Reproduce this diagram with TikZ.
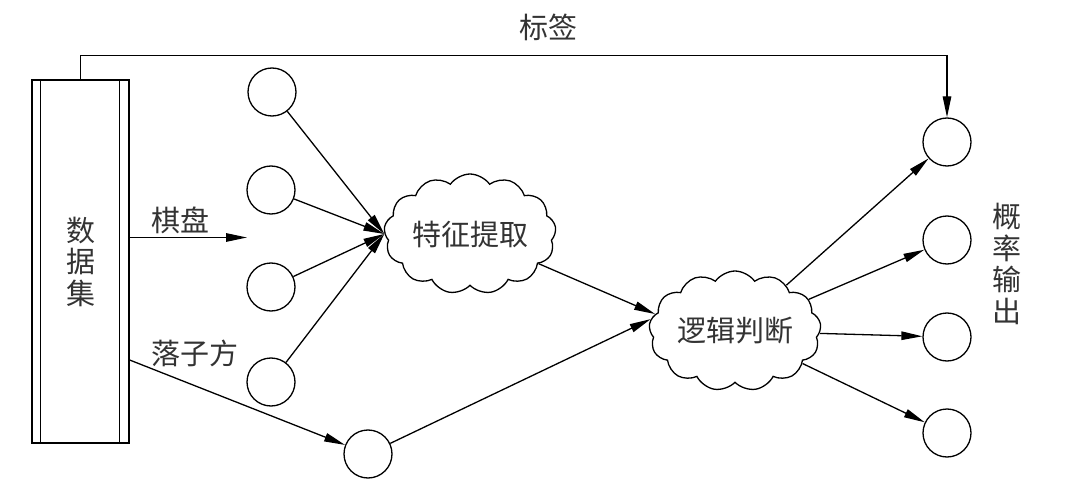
\documentclass[tikz,border=0pt]{standalone}
\usepackage{fontspec}
\newfontfamily\cjk{Noto Sans CJK SC}
\newcommand\cjkbigfont{\cjk\fontsize{29}{31.5}\selectfont\lineskiplimit=-50pt\relax\lineskip=0pt\relax}
\usetikzlibrary{arrows.meta,shapes.symbols}
\begin{document}
\begin{tikzpicture}[x=1pt,y=-1pt,
  line width=1.3pt,
  txt/.style={font=\cjkbigfont, inner sep=0pt, text=black!80},
  vtxt/.style={txt, align=center},
  neuron/.style={draw, circle, minimum size=48pt, inner sep=0pt},
  cloudbox/.style={draw, cloud, cloud puffs=13, cloud puff arc=110, minimum width=170pt, minimum height=112pt, inner sep=0pt, aspect=1.6, font=\cjkbigfont, text=black!80},
  arr/.style={-{Triangle[length=21pt,width=8.5pt]}}
]
\useasboundingbox (0,0) rectangle (1080,492);

% dataset box
\node[draw, minimum width=97pt, minimum height=363pt, inner sep=0pt, vtxt] (ds) at (80.5,261.5) {数\\据\\集};
\draw ([xshift=9pt]ds.north west) -- ([xshift=9pt]ds.south west);
\draw ([xshift=-10pt]ds.north east) -- ([xshift=-10pt]ds.south east);

% input neurons
\node[neuron] (c1) at (272,92) {};
\node[neuron] (c2) at (271,190) {};
\node[neuron] (c3) at (271,287) {};
\node[neuron] (c4) at (271,382) {};
\node[neuron] (c5) at (368,454) {};

% clouds
\node[cloudbox] (fe) at (470,234) {特征提取};
\node[cloudbox] (lc) at (735,331) {逻辑判断};

% output neurons
\node[neuron] (o1) at (947,142) {};
\node[neuron] (o2) at (947,240) {};
\node[neuron] (o3) at (947,337) {};
\node[neuron] (o4) at (947,433) {};

% texts
\node[txt] (lbl) at (548,27) {标签};
\node[txt] (qp) at (180,220) {棋盘};
\node[txt] (lz) at (195,353) {落子方};
\node[vtxt] (out) at (1007,264) {概\\率\\输\\出};

% connectors
\draw[arr] (ds.north) -- ++(0,-24) -| (o1);
\coordinate (qpend) at (247,237.5);
\draw[arr] (ds.east |- qpend) -- (qpend);
\draw[arr] ([yshift=-98.5pt]ds.east) -- (c5);

\draw[arr] (c1) -- (fe.west);
\draw[arr] (c2) -- (fe.west);
\draw[arr] (c3) -- (fe.west);
\draw[arr] (c4) -- (fe.west);

\draw[arr] (fe) -- (lc.168);
\draw[arr] (c5) -- (lc.172);

\draw[arr] (lc) -- (o1);
\draw[arr] (lc) -- (o2);
\draw[arr] (lc) -- (o3);
\draw[arr] (lc) -- (o4);
\end{tikzpicture}
\end{document}
